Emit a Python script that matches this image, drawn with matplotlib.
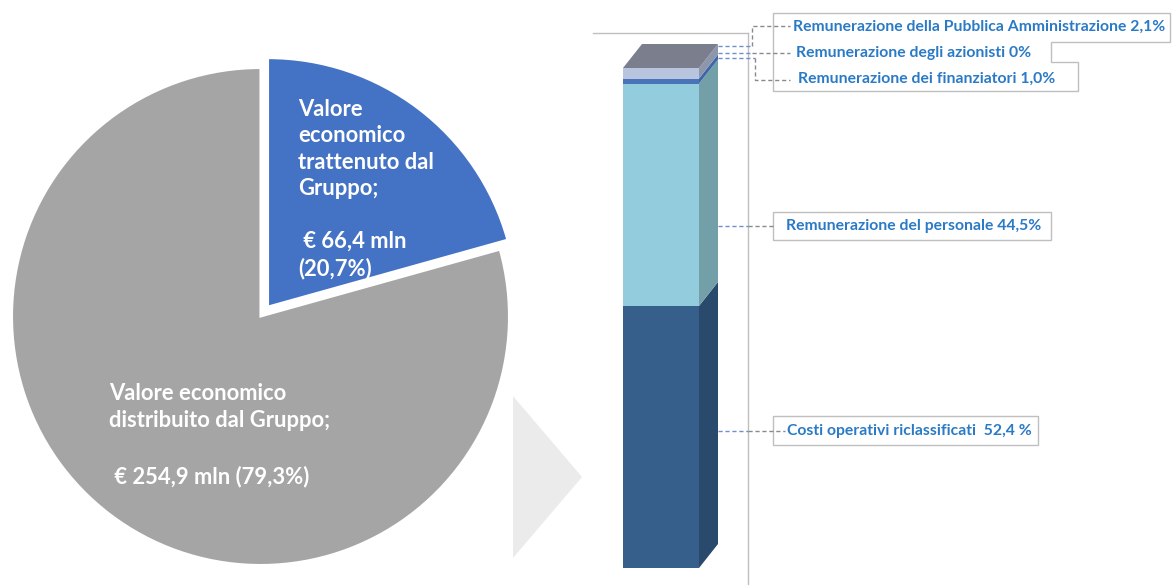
import matplotlib
matplotlib.use("Agg")
import matplotlib.pyplot as plt
from matplotlib.patches import Polygon, Rectangle

# pie data (values in mln euro)
pie_labels = ["Valore economico trattenuto dal Gruppo", "Valore economico distribuito dal Gruppo"]
pie_values = [66.4, 254.9]
pie_colors = ["#4472c4", "#a5a5a5"]

# stacked bar data (share of distributed value, %)
bar_categories = [
    "Costi operativi riclassificati",
    "Remunerazione del personale",
    "Remunerazione degli azionisti",
    "Remunerazione dei finanziatori",
    "Remunerazione della Pubblica Amministrazione",
]
bar_shares = [52.4, 44.5, 0.0, 1.0, 2.1]
bar_labels = [
    "Costi operativi riclassificati  52,4 %",
    "Remunerazione del personale 44,5%",
    "Remunerazione degli azionisti 0%",
    "Remunerazione dei finanziatori 1,0%",
    "Remunerazione della Pubblica Amministrazione 2,1%",
]
front_colors = ["#365f8b", "#93cddd", "#4a74b8", "#4a74b8", "#b9c5de"]
side_colors = ["#2a4a6d", "#739fa9", "#3f66a6", "#3f66a6", "#8e96ab"]
top_color = "#7b7f8d"

W, H = 1173, 585
FONT = "Lato"
LABEL_COLOR = "#2a7ac6"
BOX_EDGE = "#bfbfbf"

fig = plt.figure(figsize=(W / 100, H / 100), dpi=100)


def px_axes(left, top, width, height):
    # axes placed in pixel coords measured from the top-left corner
    return fig.add_axes([left / W, (H - top - height) / H, width / W, height / H])


# ---- pie ----
radius_px = 248.5
cx, cy = 260.5, 316.5
span = 2.2 * radius_px
ax_pie = px_axes(cx - span / 2, cy - span / 2, span, span)
ax_pie.pie(
    pie_values,
    colors=pie_colors,
    startangle=90,
    counterclock=False,
    explode=[0.05, 0],
    wedgeprops=dict(edgecolor="white", linewidth=1.5),
)
ax_pie.set_xlim(-1.1, 1.1)
ax_pie.set_ylim(-1.1, 1.1)
ax_pie.set_aspect("equal")
ax_pie.axis("off")

# ---- 3d-looking stacked column ----
ax_bar = px_axes(593, 68, 155, 500)
ax_bar.set_xlim(0, 155)
ax_bar.set_ylim(0, 100)
ax_bar.axis("off")

x0, bw = 30, 76
dx, dy = 19, 24 / 5.0  # depth offset: px in x, % units in y (5 px per %)
bottoms = []
acc = 0
for v in bar_shares:
    bottoms.append(acc)
    acc += v
ax_bar.bar(x0, bar_shares, width=bw, bottom=bottoms, align="edge",
           color=front_colors, linewidth=0)
for v, b, sc in zip(bar_shares, bottoms, side_colors):
    if v <= 0:
        continue
    side = Polygon(
        [(x0 + bw, b), (x0 + bw + dx, b + dy), (x0 + bw + dx, b + v + dy), (x0 + bw, b + v)],
        closed=True, facecolor=sc, edgecolor="none", clip_on=False,
    )
    ax_bar.add_patch(side)
top = Polygon(
    [(x0, acc), (x0 + dx, acc + dy), (x0 + bw + dx, acc + dy), (x0 + bw, acc)],
    closed=True, facecolor=top_color, edgecolor="none", clip_on=False,
)
ax_bar.add_patch(top)

# ---- overlay for texts, frame, leaders ----
ov = fig.add_axes([0, 0, 1, 1])
ov.set_xlim(0, W)
ov.set_ylim(H, 0)
ov.axis("off")

pie_txt = dict(color="white", fontsize=15.8, fontweight="bold", family=FONT,
               va="center", ha="left", linespacing=1.32)
ov.text(298, 149, "Valore\neconomico\ntrattenuto dal\nGruppo;", **pie_txt)
ov.text(298, 255, " € 66,4 mln\n(20,7%)", **pie_txt)
ov.text(109, 407, "Valore economico\ndistribuito dal Gruppo;", **pie_txt)
ov.text(109, 477, " € 254,9 mln (79,3%)", **pie_txt)

# arrow between the two charts
ov.add_patch(Polygon([(513, 396), (582, 477), (513, 558)], closed=True,
                     facecolor="#ebebeb", edgecolor="none"))

# plot area border (top and right only)
ov.plot([593, 748], [33, 33], color=BOX_EDGE, lw=1)
ov.plot([748, 748], [33, 585], color=BOX_EDGE, lw=1)

# label boxes
ov.add_patch(Polygon([(773, 13), (1170, 13), (1170, 42), (1051, 42), (1051, 62),
                      (1078, 62), (1078, 91), (773, 91)], closed=True,
                     facecolor="white", edgecolor=BOX_EDGE, lw=1))
ov.add_patch(Rectangle((773, 212), 278, 28, facecolor="white", edgecolor=BOX_EDGE, lw=1))
ov.add_patch(Rectangle((773, 416), 265, 29, facecolor="white", edgecolor=BOX_EDGE, lw=1))

# leader lines
blue_dash = dict(color="#6f8fd0", lw=1, ls=(0, (3, 2)))
grey_dash = dict(color="#8a8a8a", lw=1, ls=(0, (3, 2)))
ov.plot([718, 752], [46, 46], **blue_dash)
ov.plot([752, 752, 790], [46, 26, 26], **grey_dash)
ov.plot([718, 752], [53, 53], **blue_dash)
ov.plot([752, 790], [53, 53], **grey_dash)
ov.plot([718, 755], [58, 58], **blue_dash)
ov.plot([755, 755, 790], [58, 80, 80], **grey_dash)
ov.plot([718, 748], [226, 226], **blue_dash)
ov.plot([748, 773], [226, 226], **grey_dash)
ov.plot([718, 748], [431, 431], **blue_dash)
ov.plot([748, 785], [431, 431], **grey_dash)

# label texts
label_pos = [(787, 431), (786, 226), (796, 53), (798, 79), (793, 27)]
for text, (lx, ly) in zip(bar_labels, label_pos):
    ov.text(lx, ly, text, color=LABEL_COLOR, fontsize=11.3, fontweight="bold",
            family=FONT, va="center", ha="left")

fig.savefig("out.png", dpi=100)
